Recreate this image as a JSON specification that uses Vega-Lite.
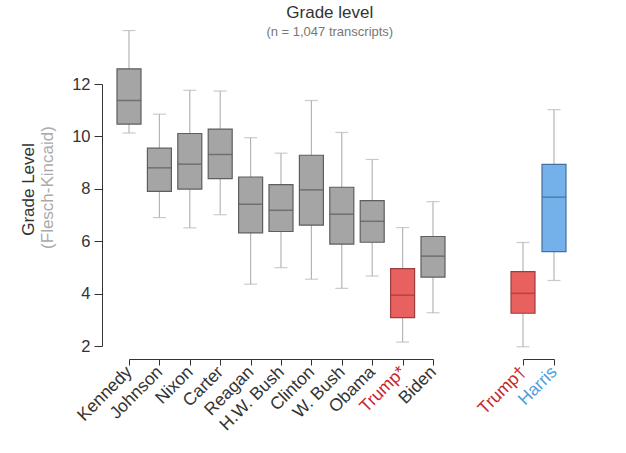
{
  "$schema": "https://vega.github.io/schema/vega-lite/v6.json",
  "background": "white",
  "padding": {"left": 18, "top": 3, "right": 5, "bottom": 5},
  "config": {
    "font": "Liberation Sans",
    "view": {"stroke": null},
    "axis": {"grid": false, "domainColor": "#333333", "tickColor": "#333333", "labelColor": "#333333"}
  },
  "title": {
    "text": "Grade level",
    "subtitle": "(n = 1,047 transcripts)",
    "fontSize": 17,
    "fontWeight": "normal",
    "color": "#333333",
    "subtitleFontSize": 13,
    "subtitleColor": "#777777",
    "subtitlePadding": 4,
    "anchor": "middle",
    "dx": 37,
    "offset": -10
  },
  "datasets": {
    "speeches": [
      {"name": "Kennedy", "era": "presidents", "candidate": "Other", "lower": 10.13, "q1": 10.47, "median": 11.37, "q3": 12.58, "upper": 14.04},
      {"name": "Johnson", "era": "presidents", "candidate": "Other", "lower": 6.9, "q1": 7.9, "median": 8.8, "q3": 9.55, "upper": 10.85},
      {"name": "Nixon", "era": "presidents", "candidate": "Other", "lower": 6.51, "q1": 7.99, "median": 8.94, "q3": 10.11, "upper": 11.76},
      {"name": "Carter", "era": "presidents", "candidate": "Other", "lower": 7.01, "q1": 8.39, "median": 9.31, "q3": 10.28, "upper": 11.73},
      {"name": "Reagan", "era": "presidents", "candidate": "Other", "lower": 4.36, "q1": 6.32, "median": 7.41, "q3": 8.45, "upper": 9.95},
      {"name": "H.W. Bush", "era": "presidents", "candidate": "Other", "lower": 4.99, "q1": 6.37, "median": 7.18, "q3": 8.16, "upper": 9.36},
      {"name": "Clinton", "era": "presidents", "candidate": "Other", "lower": 4.55, "q1": 6.61, "median": 7.96, "q3": 9.28, "upper": 11.37},
      {"name": "W. Bush", "era": "presidents", "candidate": "Other", "lower": 4.2, "q1": 5.89, "median": 7.03, "q3": 8.06, "upper": 10.15},
      {"name": "Obama", "era": "presidents", "candidate": "Other", "lower": 4.67, "q1": 5.96, "median": 6.76, "q3": 7.55, "upper": 9.12},
      {"name": "Trump*", "era": "presidents", "candidate": "Trump", "lower": 2.15, "q1": 3.08, "median": 3.94, "q3": 4.95, "upper": 6.52},
      {"name": "Biden", "era": "presidents", "candidate": "Other", "lower": 3.27, "q1": 4.63, "median": 5.43, "q3": 6.18, "upper": 7.51},
      {"name": "Trump†", "era": "2024", "candidate": "Trump", "lower": 1.97, "q1": 3.25, "median": 4.01, "q3": 4.84, "upper": 5.95},
      {"name": "Harris", "era": "2024", "candidate": "Harris", "lower": 4.5, "q1": 5.6, "median": 7.68, "q3": 8.93, "upper": 11.02}
    ]
  },
  "spacing": 28,
  "hconcat": [
    {
      "width": 304,
      "height": 262,
      "data": {"name": "speeches"},
      "transform": [{"filter": "datum.era == 'presidents'"}],
      "encoding": {
        "x": {
          "field": "name", "type": "nominal", "sort": null,
          "scale": {"type": "point", "padding": 0},
          "axis": {
            "title": null, "labelAngle": -45, "labelAlign": "right", "labelBaseline": "middle",
            "labelFontSize": 17.5, "labelPadding": 4, "tickSize": 6, "offset": 13,
            "labelColor": {"condition": {"test": "datum.value == 'Trump*'", "value": "#c9252c"}, "value": "#333333"}
          }
        }
      },
      "layer": [
        {
          "mark": {"type": "rule", "color": "#b5b5b5", "strokeWidth": 1.2},
          "encoding": {
            "y": {
              "field": "lower", "type": "quantitative",
              "scale": {"domain": [2, 12], "nice": false, "zero": false},
              "axis": {"orient": "left", "offset": 27, "domain": false, "ticks": false, "labels": false,
                       "title": "Grade Level", "titleFontSize": 17, "titleFontWeight": "normal", "titleColor": "#333333",
                       "titleX": -74, "titleY": 105, "titleBaseline": "middle", "titleAngle": -90}
            },
            "y2": {"field": "upper"}
          }
        },
        {
          "layer": [
            {
              "mark": {"type": "tick", "color": "#b5b5b5", "size": 13, "thickness": 1.2},
              "encoding": {"y": {"field": "lower", "type": "quantitative"}}
            },
            {
              "mark": {"type": "tick", "color": "#b5b5b5", "size": 13, "thickness": 1.2},
              "encoding": {"y": {"field": "upper", "type": "quantitative"}}
            },
            {
              "mark": {"type": "bar", "size": 24, "strokeWidth": 1.2},
              "encoding": {
                "y": {"field": "q1", "type": "quantitative"},
                "y2": {"field": "q3"},
                "fill": {"field": "candidate", "type": "nominal", "legend": null,
                         "scale": {"domain": ["Other", "Trump", "Harris"], "range": ["#a5a5a5", "#e8615f", "#74b0e9"]}},
                "stroke": {"field": "candidate", "type": "nominal", "legend": null,
                           "scale": {"domain": ["Other", "Trump", "Harris"], "range": ["#5e5e5e", "#9c3e3e", "#44709d"]}}
              }
            },
            {
              "mark": {"type": "tick", "size": 24, "thickness": 1.5},
              "encoding": {
                "y": {"field": "median", "type": "quantitative",
                      "scale": {"domain": [2, 12], "nice": false, "zero": false},
                      "axis": {"orient": "left", "offset": 27, "values": [2, 4, 6, 8, 10, 12], "tickSize": 8,
                               "labelFontSize": 16.5, "labelPadding": 4,
                               "title": "(Flesch-Kincaid)", "titleFontSize": 17, "titleFontWeight": "normal", "titleColor": "#aaaaaa",
                               "titleX": -55, "titleY": 103, "titleBaseline": "middle", "titleAngle": -90}},
                "color": {"field": "candidate", "type": "nominal", "legend": null,
                          "scale": {"domain": ["Other", "Trump", "Harris"], "range": ["#5a5a5a", "#9c3a3a", "#3f6a98"]}}
              }
            }
          ]
        }
      ],
      "resolve": {"scale": {"y": "independent"}, "axis": {"y": "independent"}}
    },
    {
      "width": 31,
      "height": 262,
      "data": {"name": "speeches"},
      "transform": [{"filter": "datum.era == '2024'"}],
      "encoding": {
        "x": {
          "field": "name", "type": "nominal", "sort": null,
          "scale": {"type": "point", "padding": 0},
          "axis": {
            "title": null, "labelAngle": -45, "labelAlign": "right", "labelBaseline": "middle",
            "labelFontSize": 17.5, "labelPadding": 4, "tickSize": 6, "offset": 13,
            "labelColor": {"condition": {"test": "datum.value == 'Harris'", "value": "#4d9de0"}, "value": "#c9252c"}
          }
        }
      },
      "layer": [
        {
          "mark": {"type": "rule", "color": "#b5b5b5", "strokeWidth": 1.2},
          "encoding": {
            "y": {"field": "lower", "type": "quantitative",
                  "scale": {"domain": [2, 12], "nice": false, "zero": false}, "axis": null},
            "y2": {"field": "upper"}
          }
        },
        {
          "mark": {"type": "tick", "color": "#b5b5b5", "size": 13, "thickness": 1.2},
          "encoding": {"y": {"field": "lower", "type": "quantitative"}}
        },
        {
          "mark": {"type": "tick", "color": "#b5b5b5", "size": 13, "thickness": 1.2},
          "encoding": {"y": {"field": "upper", "type": "quantitative"}}
        },
        {
          "mark": {"type": "bar", "size": 24, "strokeWidth": 1.2},
          "encoding": {
            "y": {"field": "q1", "type": "quantitative"},
            "y2": {"field": "q3"},
            "fill": {"field": "candidate", "type": "nominal", "legend": null,
                     "scale": {"domain": ["Other", "Trump", "Harris"], "range": ["#a5a5a5", "#e8615f", "#74b0e9"]}},
            "stroke": {"field": "candidate", "type": "nominal", "legend": null,
                       "scale": {"domain": ["Other", "Trump", "Harris"], "range": ["#5e5e5e", "#9c3e3e", "#44709d"]}}
          }
        },
        {
          "mark": {"type": "tick", "size": 24, "thickness": 1.5},
          "encoding": {
            "y": {"field": "median", "type": "quantitative"},
            "color": {"field": "candidate", "type": "nominal", "legend": null,
                      "scale": {"domain": ["Other", "Trump", "Harris"], "range": ["#5a5a5a", "#9c3a3a", "#3f6a98"]}}
          }
        }
      ]
    }
  ]
}
